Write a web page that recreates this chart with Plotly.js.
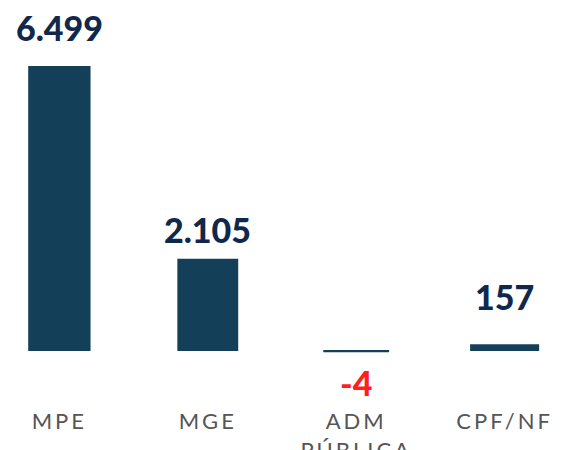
<!DOCTYPE html>
<html>
<head>
<meta charset="utf-8">
<script src="https://cdn.plot.ly/plotly-3.0.1.min.js"></script>
<style>
html, body { margin: 0; padding: 0; background: #fff; }
#chart { width: 564px; height: 450px; }
.xtick text { letter-spacing: 3px; }
</style>
</head>
<body>
<div id="chart"></div>
<script>
// Data
const categories = ['MPE', 'MGE', 'ADM PÚBLICA', 'CPF/NF'];
const tickLabels = ['MPE', 'MGE', 'ADM<br>PÚBLICA', 'CPF/NF'];
const values = [6499, 2105, -4, 157];
const valueLabels = ['6.499', '2.105', '-4', '157'];

// Styles
const barColor = '#143f58';
const labelColor = '#10284b';
const negColor = '#ff1f1f';
const barWidths = [0.42, 0.41, 0.43, 0.465];
const labelShift = [16, 7, -9, 25];

const trace = {
  type: 'bar',
  x: categories,
  y: values,
  width: barWidths,
  marker: {
    color: barColor,
    line: { color: barColor, width: values.map(v => v < 0 ? 2 : 0) }
  },
  hoverinfo: 'none'
};

const annotations = categories.map((c, i) => ({
  x: c,
  y: values[i] < 0 ? 0 : values[i],
  xref: 'x', yref: 'y',
  text: valueLabels[i],
  showarrow: false,
  yanchor: values[i] < 0 ? 'top' : 'bottom',
  yshift: labelShift[i],
  font: { family: 'Lato, sans-serif', size: 34, weight: 900, color: values[i] < 0 ? negColor : labelColor }
}));

const layout = {
  width: 564, height: 450,
  margin: { l: 0, r: 0, t: 0, b: 45 },
  paper_bgcolor: '#fff', plot_bgcolor: '#fff',
  showlegend: false,
  bargap: 0.5,
  xaxis: {
    type: 'category',
    range: [-0.4, 3.4],
    tickvals: categories,
    ticktext: tickLabels,
    ticks: '',
    showgrid: false, zeroline: false, showline: false,
    tickfont: { family: 'Lato, sans-serif', size: 22, color: '#555555' },
    ticklabelstandoff: 1
  },
  yaxis: {
    range: [-1231, 8004],
    visible: false,
    showgrid: false, zeroline: false
  },
  annotations: annotations
};

Plotly.newPlot('chart', [trace], layout, { staticPlot: true, displayModeBar: false });
</script>
</body>
</html>
